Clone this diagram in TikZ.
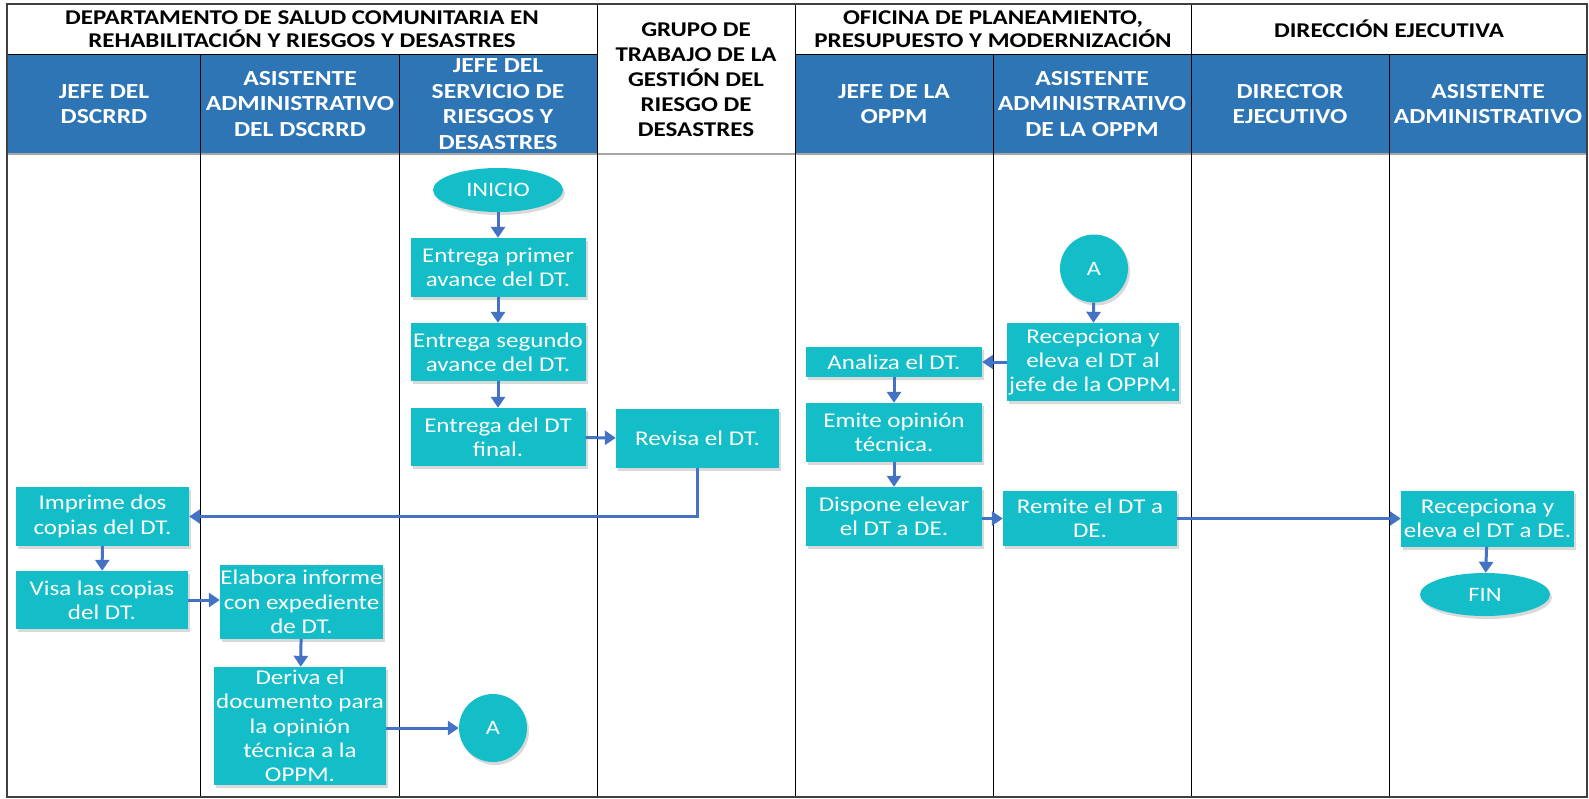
\documentclass[tikz,border=0pt]{standalone}
\usepackage{fontspec}
\setmainfont{Carlito}[FakeStretch=1.19]
\usetikzlibrary{arrows.meta,shadows,shapes.geometric}

\definecolor{turquesa}{RGB}{19,190,200}
\definecolor{azulcab}{RGB}{46,117,182}
\definecolor{azulflecha}{RGB}{68,114,196}

\tikzset{
  caja/.style={rectangle, fill=turquesa, text=white, align=center, inner sep=0pt,
    font=\fontsize{21}{24.3}\selectfont,
    drop shadow={shadow xshift=2pt, shadow yshift=-3pt, opacity=0.3}},
  terminal/.style={ellipse, fill=turquesa, text=white, inner sep=0pt,
    minimum width=130pt, minimum height=44pt, font=\fontsize{20.5}{24}\selectfont,
    drop shadow={shadow xshift=2pt, shadow yshift=-3pt, opacity=0.3}},
  conector/.style={circle, fill=turquesa, text=white, inner sep=0pt,
    minimum size=68pt, font=\fontsize{20.5}{24}\selectfont,
    drop shadow={shadow xshift=2pt, shadow yshift=-3pt, opacity=0.3}},
  flecha/.style={draw=azulflecha, line width=3pt, -{Triangle[length=11pt,width=14pt]}},
  cargo/.style={text=white, align=center, font=\bfseries\fontsize{21.5}{25.5}\selectfont},
  area/.style={align=center, font=\bfseries\fontsize{21}{23.5}\selectfont},
}

\begin{document}
\begin{tikzpicture}[x=1pt, y=-1pt]
\useasboundingbox (0,0) rectangle (1589,798);

% cabeceras
\fill[azulcab] (7,54) rectangle (597,154);
\fill[azulcab] (795,54) rectangle (1587,154);
\draw[line width=1pt] (7,54) -- (597,54) (795,54) -- (1587,54);
\draw[black!35, line width=1.2pt] (7,154) -- (1587,154);
\foreach \x in {200,399,993,1389}
  \draw[line width=1pt] (\x,54) -- (\x,797);
\foreach \x in {597,795,1191}
  \draw[line width=1pt] (\x,4) -- (\x,797);
\draw[black!75, line width=2pt] (7,4) rectangle (1587,797);

\node[area] (dscrrd) at (302,29) {DEPARTAMENTO DE SALUD COMUNITARIA EN\\REHABILITACIÓN Y RIESGOS Y DESASTRES};
\node[area, font=\bfseries\fontsize{21}{25}\selectfont] (grupo) at (696,80) {GRUPO DE\\TRABAJO DE LA\\GESTIÓN DEL\\RIESGO DE\\DESASTRES};
\node[area] (oppm) at (993,29) {OFICINA DE PLANEAMIENTO,\\PRESUPUESTO Y MODERNIZACIÓN};
\node[area] (direccion) at (1389,29) {DIRECCIÓN EJECUTIVA};

\node[cargo] (jefedscrrd) at (104,104) {JEFE DEL\\DSCRRD};
\node[cargo] (asisdscrrd) at (300,104) {ASISTENTE\\ADMINISTRATIVO\\DEL DSCRRD};
\node[cargo] (jefeserv) at (498,104) {JEFE DEL\\SERVICIO DE\\RIESGOS Y\\DESASTRES};
\node[cargo] (jefeoppm) at (894,104) {JEFE DE LA\\OPPM};
\node[cargo] (asisoppm) at (1092,104) {ASISTENTE\\ADMINISTRATIVO\\DE LA OPPM};
\node[cargo] (director) at (1290,104) {DIRECTOR\\EJECUTIVO};
\node[cargo] (asisde) at (1488,104) {ASISTENTE\\ADMINISTRATIVO};

% flujo
\node[terminal] (inicio) at (498,190) {INICIO};
\node[caja, minimum width=175pt, minimum height=59pt] (entrega1) at (498,267.5) {Entrega primer\\avance del DT.};
\node[caja, minimum width=175pt, minimum height=58pt] (entrega2) at (498,352) {Entrega segundo\\avance del DT.};
\node[caja, minimum width=175pt, minimum height=58pt] (entrega3) at (498,437) {Entrega del DT\\final.};
\node[caja, minimum width=163pt, minimum height=59pt] (revisa) at (697.5,438.5) {Revisa el DT.};
\node[caja, minimum width=173pt, minimum height=59pt] (imprime) at (102.5,516.5) {Imprime dos\\copias del DT.};
\node[caja, minimum width=172pt, minimum height=58pt] (visa) at (102,600) {Visa las copias\\del DT.};
\node[caja, minimum width=163pt, minimum height=74pt] (elabora) at (301.5,602) {Elabora informe\\con expediente\\de DT.};
\node[caja, minimum width=172pt, minimum height=118pt] (deriva) at (300,726) {Deriva el\\documento para\\la opinión\\técnica a la\\OPPM.};
\node[conector] (a1) at (493,728) {A};

\node[conector] (a2) at (1094,268.5) {A};
\node[caja, minimum width=172pt, minimum height=78pt] (recep1) at (1093,362) {Recepciona y\\eleva el DT al\\jefe de la OPPM.};
\node[caja, minimum width=176pt, minimum height=30pt] (analiza) at (894,362) {Analiza el DT.};
\node[caja, minimum width=176pt, minimum height=59pt] (emite) at (894,432.5) {Emite opinión\\técnica.};
\node[caja, minimum width=176pt, minimum height=59pt] (dispone) at (894,516.5) {Dispone elevar\\el DT a DE.};
\node[caja, minimum width=174pt, minimum height=55pt] (remite) at (1090,518.5) {Remite el DT a\\DE.};
\node[caja, minimum width=173pt, minimum height=56pt] (recep2) at (1487.5,518.5) {Recepciona y\\eleva el DT a DE.};
\node[terminal, minimum height=43pt] (fin) at (1485,594.5) {FIN};

\draw[flecha] (inicio) -- (entrega1);
\draw[flecha] (entrega1) -- (entrega2);
\draw[flecha] (entrega2) -- (entrega3);
\draw[flecha] (entrega3) -- (revisa);
\draw[flecha] (revisa.south) |- (imprime.east);
\draw[flecha] (imprime) -- (visa);
\draw[flecha] (visa.east) -- (elabora.west |- visa.east);
\draw[flecha] (elabora) -- (deriva);
\draw[flecha] (deriva.east |- a1) -- (a1);
\draw[flecha] (a2) -- (recep1);
\draw[flecha] (recep1) -- (analiza);
\draw[flecha] (analiza) -- (emite);
\draw[flecha] (emite) -- (dispone);
\draw[flecha] (dispone.east |- remite) -- (remite);
\draw[flecha] (remite) -- (recep2);
\draw[flecha] (recep2) -- (fin);

\end{tikzpicture}
\end{document}
